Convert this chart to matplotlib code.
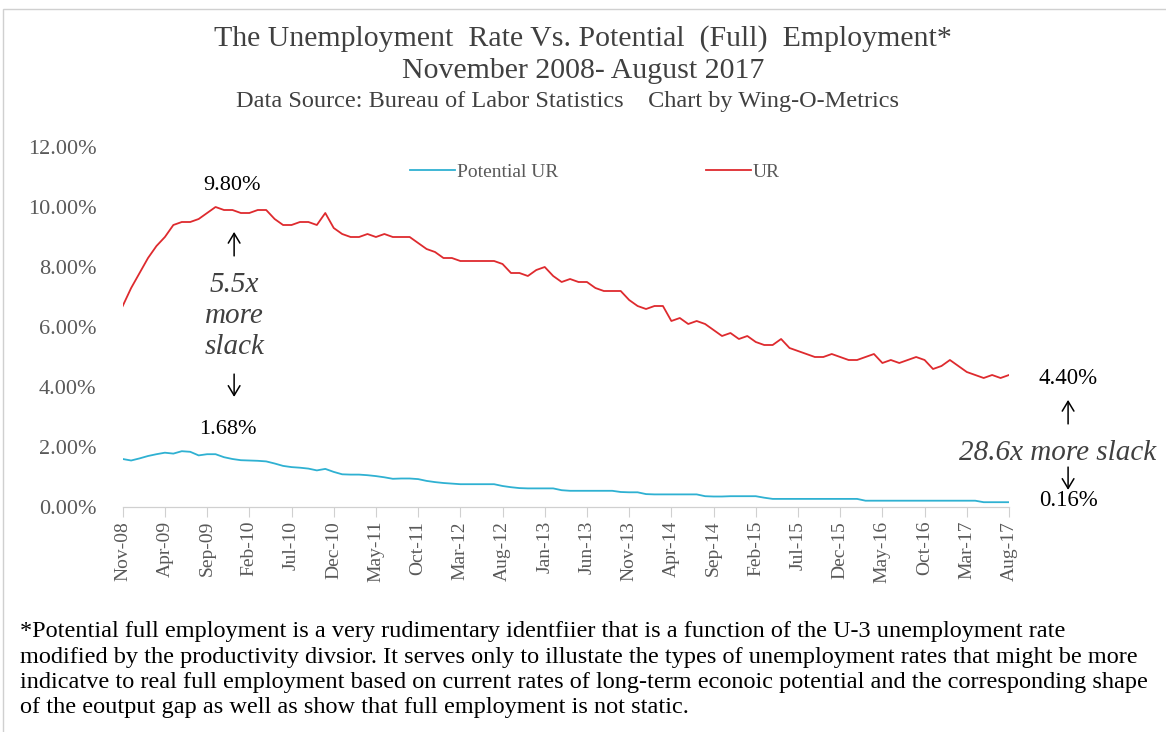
import matplotlib
matplotlib.use("Agg")
import matplotlib.pyplot as plt
from matplotlib.patches import Rectangle
import numpy as np

# ---------------- data ----------------
ur = [6.7, 7.3,
      7.8, 8.3, 8.7, 9.0, 9.4, 9.5, 9.5, 9.6, 9.8, 10.0, 9.9, 9.9,
      9.8, 9.8, 9.9, 9.9, 9.6, 9.4, 9.4, 9.5, 9.5, 9.4, 9.8, 9.3,
      9.1, 9.0, 9.0, 9.1, 9.0, 9.1, 9.0, 9.0, 9.0, 8.8, 8.6, 8.5,
      8.3, 8.3, 8.2, 8.2, 8.2, 8.2, 8.2, 8.1, 7.8, 7.8, 7.7, 7.9,
      8.0, 7.7, 7.5, 7.6, 7.5, 7.5, 7.3, 7.2, 7.2, 7.2, 6.9, 6.7,
      6.6, 6.7, 6.7, 6.2, 6.3, 6.1, 6.2, 6.1, 5.9, 5.7, 5.8, 5.6,
      5.7, 5.5, 5.4, 5.4, 5.6, 5.3, 5.2, 5.1, 5.0, 5.0, 5.1, 5.0,
      4.9, 4.9, 5.0, 5.1, 4.8, 4.9, 4.8, 4.9, 5.0, 4.9, 4.6, 4.7,
      4.9, 4.7, 4.5, 4.4, 4.3, 4.4, 4.3, 4.4]

potential_ur = [1.60, 1.55,
                1.62, 1.70, 1.76, 1.81, 1.78, 1.86, 1.84, 1.72, 1.76, 1.76, 1.66, 1.60,
                1.56, 1.55, 1.54, 1.52, 1.45, 1.37, 1.33, 1.31, 1.28, 1.22, 1.27, 1.17,
                1.09, 1.08, 1.08, 1.06, 1.03, 0.99, 0.94, 0.95, 0.95, 0.93, 0.87, 0.83,
                0.80, 0.78, 0.76, 0.76, 0.76, 0.76, 0.76, 0.70, 0.66, 0.63, 0.62, 0.62,
                0.62, 0.62, 0.56, 0.54, 0.54, 0.54, 0.54, 0.54, 0.54, 0.50, 0.49, 0.49,
                0.43, 0.42, 0.42, 0.42, 0.42, 0.42, 0.42, 0.36, 0.35, 0.35, 0.36, 0.36,
                0.36, 0.36, 0.31, 0.27, 0.27, 0.27, 0.27, 0.27, 0.27, 0.27, 0.27, 0.27,
                0.27, 0.27, 0.21, 0.21, 0.21, 0.21, 0.21, 0.21, 0.21, 0.21, 0.21, 0.21,
                0.21, 0.21, 0.21, 0.21, 0.16, 0.16, 0.16, 0.16]

tick_labels = ["Nov-08", "Apr-09", "Sep-09", "Feb-10", "Jul-10", "Dec-10", "May-11",
               "Oct-11", "Mar-12", "Aug-12", "Jan-13", "Jun-13", "Nov-13", "Apr-14",
               "Sep-14", "Feb-15", "Jul-15", "Dec-15", "May-16", "Oct-16", "Mar-17",
               "Aug-17"]
y_ticks = [0, 2, 4, 6, 8, 10, 12]

title_lines = ["The Unemployment  Rate Vs. Potential  (Full)  Employment*",
               "November 2008- August 2017"]
subtitle = "Data Source: Bureau of Labor Statistics    Chart by Wing-O-Metrics"
footnote_lines = [
    "*Potential full employment is a very rudimentary identfiier that is a function of the U-3 unemployment rate",
    "modified by the productivity divsior. It serves only to illustate the types of unemployment rates that might be more",
    "indicatve to real full employment based on current rates of long-term econoic potential and the corresponding shape",
    "of the eoutput gap as well as show that full employment is not static."]

# ---------------- figure ----------------
W, H = 1166, 732
plt.rcParams['font.family'] = ['Liberation Serif', 'DejaVu Serif']
fig = plt.figure(figsize=(W / 100, H / 100), dpi=100)
fig.patch.set_facecolor("white")

# outer border
fig.add_artist(Rectangle((3 / W, -0.1), 1.2, 1 - 9 / H + 0.1, transform=fig.transFigure,
                         fill=False, edgecolor="#d0d0d0", linewidth=1.0))

x0, x1 = 122.7, 1009.0
yb, yt = 507.0, 147.0
ax = fig.add_axes([x0 / W, 1 - yb / H, (x1 - x0) / W, (yb - yt) / H])

x = np.arange(len(ur))
RED = "#de2a2e"
BLUE = "#2fb1d2"
ax.plot(x, potential_ur, color=BLUE, lw=1.3, label="Potential UR")
ax.plot(x, ur, color=RED, lw=1.3, label="UR")

ax.set_xlim(0, len(ur) - 1)
ax.set_ylim(0, 12)
ax.set_yticks(y_ticks)
ax.set_yticklabels([f"{v:.2f}%" for v in y_ticks], fontsize=16, color="#595959")
ax.tick_params(axis="y", length=0, pad=19)

ticks_x = np.arange(0, len(ur), 5)
ax.set_xticks(ticks_x)
ax.set_xticklabels(tick_labels, rotation=90, fontsize=14, color="#595959")
ax.tick_params(axis="x", length=7, width=0.8, color="#d0d0d0", pad=3)

for s in ["top", "right", "left"]:
    ax.spines[s].set_visible(False)
ax.spines["bottom"].set_color("#d0d0d0")
ax.spines["bottom"].set_linewidth(0.9)

ax.legend(loc="center", bbox_to_anchor=((595 - x0) / (x1 - x0), (yb - 172) / (yb - yt)),
          ncol=2, frameon=False, fontsize=14, handlelength=2.3, handletextpad=0.1,
          columnspacing=7.6, labelcolor="#595959", borderaxespad=0, borderpad=0)

# titles
tc = "#404040"
fig.text(583 / W, 1 - 39 / H, title_lines[0], ha="center", va="center", fontsize=21.5, color=tc)
fig.text(583 / W, 1 - 71 / H, title_lines[1], ha="center", va="center", fontsize=21.5, color=tc)
fig.text(568 / W, 1 - 102 / H, subtitle, ha="center", va="center", fontsize=17.5, color=tc)

# annotations (data coords)
def ann(xv, yv, s, **kw):
    ax.text(xv, yv, s, ha="center", va="center", clip_on=False, **kw)

def arrow(xv, y_from, y_to):
    ax.annotate("", xy=(xv, y_to), xytext=(xv, y_from), annotation_clip=False,
                arrowprops=dict(arrowstyle="->,head_length=0.7,head_width=0.42",
                                color="black", lw=1.1, shrinkA=0, shrinkB=0))

ann(13.0, 10.7, "9.80%", fontsize=16, color="black")
arrow(13.2, 8.37, 9.17)
ann(13.2, 7.4, "5.5x", fontsize=21, style="italic", color="#404040")
ann(13.2, 6.38, "more", fontsize=21, style="italic", color="#404040")
ann(13.2, 5.32, "slack", fontsize=21, style="italic", color="#404040")
arrow(13.2, 4.43, 3.67)
ann(12.5, 2.6, "1.68%", fontsize=16, color="black")

ann(112.0, 4.3, "4.40%", fontsize=16.5, color="black")
arrow(112.0, 2.77, 3.57)
ann(110.8, 1.8, "28.6x more slack", fontsize=21, style="italic", color="#404040")
arrow(112.0, 1.33, 0.57)
ann(112.0, 0.2, "0.16%", fontsize=16.5, color="black")

for i, line in enumerate(footnote_lines):
    fig.text(20 / W, 1 - (632 + 25.3 * i) / H, line, ha="left", va="center",
             fontsize=17.5, color="black")

fig.savefig("out.png", dpi=100, facecolor="white")
